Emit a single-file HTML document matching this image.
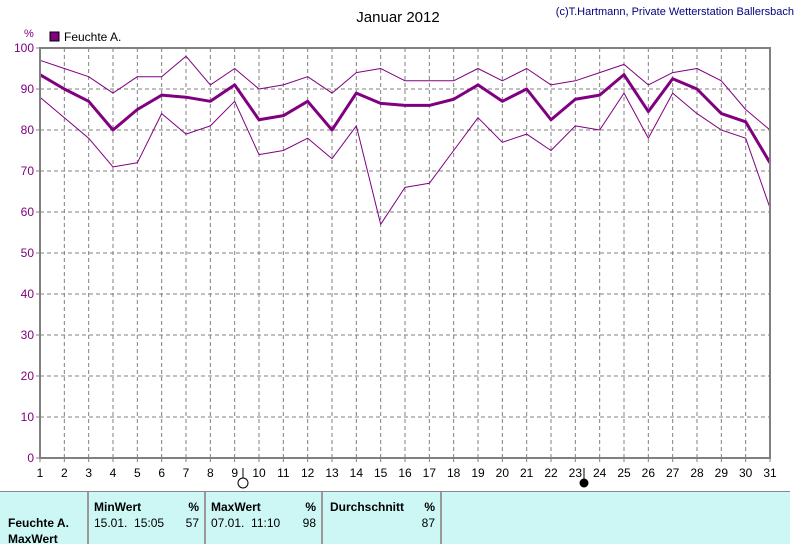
<!DOCTYPE html>
<html><head><meta charset="utf-8"><style>
body{margin:0;width:800px;height:543px;background:#fff;font-family:"Liberation Sans",sans-serif;overflow:hidden;position:relative}
svg text{font-family:"Liberation Sans",sans-serif}
.panel{position:absolute;left:0;top:491px;width:790px;height:52px;background:#cdf7f5;border-top:1px solid #888}
.cell{position:absolute;top:0;height:52px;border-right:2px solid #999;font-size:12px}
.b{font-weight:bold}
</style></head><body>
<svg width="800" height="492" style="position:absolute;left:0;top:0" id="chart">
<text x="398" y="22" font-size="15" text-anchor="middle">Januar 2012</text>
<text x="794" y="15" font-size="11" fill="#000080" text-anchor="end">(c)T.Hartmann, Private Wetterstation Ballersbach</text>
<text x="24" y="37" font-size="11" fill="#800080">%</text>
<rect x="50" y="32" width="9" height="9" fill="#800080" stroke="#000"/>
<text x="64" y="41" font-size="12">Feuchte A.</text>
<g id="grid"></g><g id="series"></g>
<rect x="40" y="48" width="730" height="410" fill="none" stroke="#808080" stroke-width="2"/>
<line x1="243" y1="468" x2="243" y2="480" stroke="#000"/>
<circle cx="243" cy="483" r="5" fill="#fff" stroke="#000"/>
<line x1="584" y1="468" x2="584" y2="480" stroke="#000"/>
<circle cx="584" cy="483" r="4" fill="#000" stroke="#000"/>
</svg>
<div class="panel">
<div class="cell" style="left:0;width:87px"><div class="b" style="position:absolute;left:8px;top:24px">Feuchte A.</div><div class="b" style="position:absolute;left:8px;top:40px">MaxWert</div></div>
<div class="cell" style="left:89px;width:115px"><div class="b" style="position:absolute;left:5px;top:8px">MinWert</div><div class="b" style="position:absolute;right:5px;top:8px">%</div><div style="position:absolute;left:5px;top:24px">15.01.&nbsp; 15:05</div><div style="position:absolute;right:5px;top:24px">57</div></div>
<div class="cell" style="left:206px;width:115px"><div class="b" style="position:absolute;left:5px;top:8px">MaxWert</div><div class="b" style="position:absolute;right:5px;top:8px">%</div><div style="position:absolute;left:5px;top:24px">07.01.&nbsp; 11:10</div><div style="position:absolute;right:5px;top:24px">98</div></div>
<div class="cell" style="left:323px;width:117px"><div class="b" style="position:absolute;left:7px;top:8px">Durchschnitt</div><div class="b" style="position:absolute;right:5px;top:8px">%</div><div style="position:absolute;right:5px;top:24px">87</div></div>
</div>
<script>
const days=[1,2,3,4,5,6,7,8,9,10,11,12,13,14,15,16,17,18,19,20,21,22,23,24,25,26,27,28,29,30,31];
const maxVals=[97,95,93,89,93,93,98,91,95,90,91,93,89,94,95,92,92,92,95,92,95,91,92,94,96,91,94,95,92,85,80];
const avgVals=[93.5,90,87,80,85,88.5,88,87,91,82.5,83.5,87,80,89,86.5,86,86,87.5,91,87,90,82.5,87.5,88.5,93.5,84.5,92.5,90,84,82,72];
const minVals=[88,83,78,71,72,84,79,81,87,74,75,78,73,81,57,66,67,75,83,77,79,75,81,80,89,78,89,84,80,78,61];
const yTicks=[0,10,20,30,40,50,60,70,80,90,100];
const NS="http://www.w3.org/2000/svg";
const x=d=>40+(d-1)*(730/30), y=v=>458-v*4.1;
const grid=document.getElementById('grid'), ser=document.getElementById('series');
function mk(t,a,p){const e=document.createElementNS(NS,t);for(const k in a)e.setAttribute(k,a[k]);p.appendChild(e);return e;}
yTicks.forEach(v=>{
 if(v>0&&v<100){const l=mk('line',{x1:40,x2:770,y1:y(v),y2:y(v),stroke:'#808080','stroke-dasharray':'4,3'},grid);
 
 }
 const tk=mk('line',{x1:36,x2:40,y1:y(v),y2:y(v),stroke:'#808080'},grid);
 
 
 const t=mk('text',{x:34,y:y(v)+4,'font-size':12,fill:'#800080','text-anchor':'end'},grid);t.textContent=v;
 
 
});
days.forEach(d=>{
 if(d>1&&d<31){const l=mk('line',{x1:x(d),x2:x(d),y1:48,y2:458,stroke:'#808080','stroke-dasharray':'4,3'},grid);
 
 }
 const tk=mk('line',{x1:x(d),x2:x(d),y1:458,y2:462,stroke:'#808080'},grid);
 
 
 const t=mk('text',{x:x(d),y:477,'font-size':12,'text-anchor':'middle'},grid);t.textContent=d;
 
 
});
[[maxVals,1,'max-line'],[minVals,1,'min-line'],[avgVals,3,'avg-line']].forEach(([vals,w,n])=>{
 const p=mk('polyline',{points:vals.map((v,i)=>x(days[i])+','+y(v)).join(' '),fill:'none',stroke:'#800080','stroke-width':w,'stroke-linejoin':'round'},ser);
 
 
});
</script>
</body></html>
